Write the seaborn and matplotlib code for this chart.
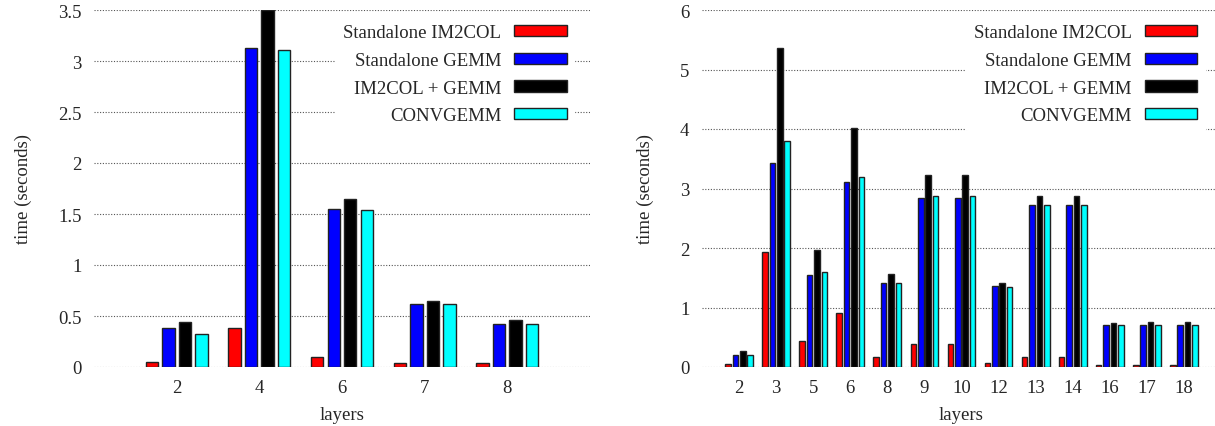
import pandas as pd
import numpy as np
import matplotlib
matplotlib.use("Agg")
import matplotlib.pyplot as plt
import seaborn as sns

# data
series = ["Standalone IM2COL", "Standalone GEMM", "IM2COL + GEMM", "CONVGEMM"]
colors = ["#ff0000", "#0000ff", "#000000", "#00ffff"]

left_layers = ["2", "4", "6", "7", "8"]
left_im2col = [0.05, 0.38, 0.10, 0.035, 0.04]
left_gemm = [0.385, 3.13, 1.55, 0.62, 0.42]
left_both = [0.44, 3.50, 1.65, 0.65, 0.46]
left_convgemm = [0.32, 3.11, 1.54, 0.62, 0.425]

right_layers = ["2", "3", "5", "6", "8", "9", "10", "12", "13", "14", "16", "17", "18"]
right_im2col = [0.055, 1.93, 0.43, 0.90, 0.16, 0.39, 0.39, 0.067, 0.16, 0.16, 0.03, 0.04, 0.04]
right_gemm = [0.21, 3.43, 1.55, 3.11, 1.41, 2.84, 2.84, 1.36, 2.72, 2.72, 0.71, 0.71, 0.71]
right_both = [0.27, 5.36, 1.97, 4.02, 1.57, 3.23, 3.23, 1.42, 2.87, 2.87, 0.74, 0.75, 0.75]
right_convgemm = [0.21, 3.80, 1.60, 3.20, 1.42, 2.87, 2.88, 1.35, 2.72, 2.72, 0.70, 0.70, 0.70]


def to_long(layers, cols):
    rows = []
    for name, vals in zip(series, cols):
        for lay, v in zip(layers, vals):
            rows.append({"layer": lay, "series": name, "time": v})
    return pd.DataFrame(rows)


left_df = to_long(left_layers, [left_im2col, left_gemm, left_both, left_convgemm])
right_df = to_long(right_layers, [right_im2col, right_gemm, right_both, right_convgemm])

sns.set_style("white")
plt.rcParams["font.family"] = ["Liberation Serif", "DejaVu Serif"]
FS = 13.5

fig = plt.figure(figsize=(12.15, 4.27), dpi=100)
ax1 = fig.add_axes([94 / 1215, 59 / 427, 496 / 1215, 357 / 427])
ax2 = fig.add_axes([702 / 1215, 59 / 427, 519 / 1215, 357 / 427])


def draw(ax, df, layers, ymax, yticks, yticklabels, anchor_x):
    sns.barplot(data=df, x="layer", y="time", hue="series", order=layers,
                hue_order=series, palette=colors, saturation=1, gap=0.25, width=0.8,
                edgecolor="#222222", linewidth=1.0, errorbar=None, ax=ax,
                zorder=3)
    ax.set_xlim(-1, len(layers))
    ax.set_ylim(0, ymax)
    ax.set_yticks(yticks)
    ax.set_yticklabels(yticklabels)
    ax.yaxis.grid(True, linestyle=(0, (1, 1.5)), color="#555555", linewidth=0.8, zorder=0)
    ax.set_axisbelow(True)
    for s in ax.spines.values():
        s.set_visible(False)
    ax.tick_params(axis="x", length=0, pad=9, labelsize=FS)
    ax.tick_params(axis="y", length=0, pad=9, labelsize=FS)
    ax.set_xlabel("layers", fontsize=FS, labelpad=7)
    ax.set_ylabel("time (seconds)", fontsize=FS, labelpad=19)
    leg = ax.legend(loc="upper right", bbox_to_anchor=(anchor_x, 0.997), markerfirst=False,
                    frameon=True, facecolor="white", edgecolor="white", framealpha=1,
                    fontsize=FS, handlelength=2.8, handleheight=0.55,
                    handletextpad=0.7, labelspacing=0.57, borderaxespad=0.3)
    leg.set_zorder(5)


draw(ax1, left_df, left_layers, 3.5, [0, 0.5, 1, 1.5, 2, 2.5, 3, 3.5],
     ["0", "0.5", "1", "1.5", "2", "2.5", "3", "3.5"], 0.98)
draw(ax2, right_df, right_layers, 6, [0, 1, 2, 3, 4, 5, 6],
     ["0", "1", "2", "3", "4", "5", "6"], 0.98)

fig.savefig("out.png", dpi=100)
